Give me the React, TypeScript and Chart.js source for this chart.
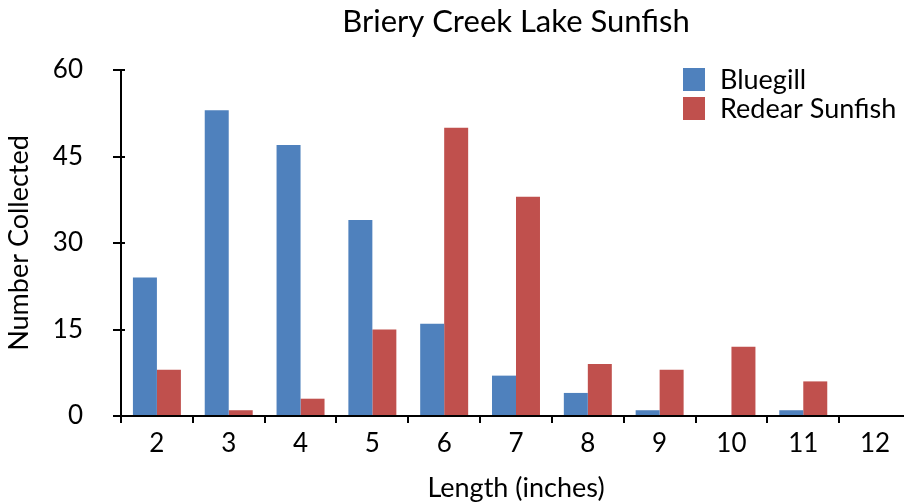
import React, { useEffect, useRef } from "react";
import { Chart, registerables } from "chart.js";

Chart.register(...registerables);

const categories = ["2", "3", "4", "5", "6", "7", "8", "9", "10", "11", "12"];
const bluegill = [24, 53, 47, 34, 16, 7, 4, 1, 0, 1, 0];
const redear = [8, 1, 3, 15, 50, 38, 9, 8, 12, 6, 0];
const seriesNames = ["Bluegill", "Redear Sunfish"];
const seriesColors = ["#4F81BD", "#C0504D"];
const yTicks = [0, 15, 30, 45, 60];

const FONT = "Lato";

const innerTicks = {
  id: "innerTicks",
  afterDraw(chart: any) {
    const y = chart.scales.y;
    const ctx = chart.ctx;
    ctx.save();
    ctx.strokeStyle = "#000";
    ctx.lineWidth = 2;
    for (const v of yTicks) {
      const py = Math.round(y.getPixelForValue(v));
      ctx.beginPath();
      ctx.moveTo(chart.chartArea.left, py);
      ctx.lineTo(chart.chartArea.left + 4, py);
      ctx.stroke();
    }
    ctx.restore();
  },
};

const customLegend = {
  id: "customLegend",
  afterDraw(chart: any) {
    const ctx = chart.ctx;
    ctx.save();
    ctx.font = `27px ${FONT}`;
    ctx.textBaseline = "middle";
    ctx.textAlign = "left";
    chart.data.datasets.forEach((ds: any, i: number) => {
      const top = 68 + i * 29;
      ctx.fillStyle = ds.backgroundColor;
      ctx.fillRect(683, top, 22, 23);
      ctx.fillStyle = "#000";
      ctx.fillText(ds.label, 720, top + 12);
    });
    ctx.restore();
  },
};

export default function App() {
  const ref = useRef<HTMLCanvasElement>(null);
  useEffect(() => {
    if (!ref.current) return;
    const chart = new Chart(ref.current, {
      type: "bar",
      data: {
        labels: categories,
        datasets: [
          { label: seriesNames[0], data: bluegill, backgroundColor: seriesColors[0], categoryPercentage: 0.668, barPercentage: 1 },
          { label: seriesNames[1], data: redear, backgroundColor: seriesColors[1], categoryPercentage: 0.668, barPercentage: 1 },
        ],
      },
      options: {
        responsive: false,
        animation: false,
        devicePixelRatio: 1,
        layout: { padding: { top: 0, right: 9, bottom: 0, left: 0 } },
        plugins: {
          legend: { display: false },
          tooltip: { enabled: false },
          title: {
            display: true,
            text: "Briery Creek Lake Sunfish",
            fullSize: false,
            color: "#000",
            font: { family: FONT, size: 31, weight: "normal" },
            padding: { top: 3, bottom: 29.8 },
          },
        },
        scales: {
          x: {
            offset: true,
            grid: { display: true, drawOnChartArea: false, drawTicks: true, tickLength: 7, color: "#000", lineWidth: 2, offset: true },
            border: { display: true, color: "#000", width: 2 },
            ticks: { color: "#000", font: { family: FONT, size: 26 }, padding: 5, maxRotation: 0, autoSkip: false },
            title: { display: true, text: "Length (inches)", color: "#000", font: { family: FONT, size: 27 }, padding: { top: 0, bottom: 0 } },
            afterFit: (s: any) => { s.height = 88; },
          },
          y: {
            min: 0,
            max: 60,
            ticks: { stepSize: 15, color: "#000", font: { family: FONT, size: 26 }, padding: 30 },
            grid: { display: true, drawOnChartArea: false, drawTicks: true, tickLength: 8, color: "#000", lineWidth: 2 },
            border: { display: true, color: "#000", width: 2 },
            title: { display: true, text: "Number Collected", color: "#000", font: { family: FONT, size: 27 }, padding: { top: 3, bottom: 0 } },
            afterFit: (s: any) => { s.width = 121; },
          },
        },
      },
      plugins: [innerTicks, customLegend],
    });
    return () => chart.destroy();
  }, []);
  return (
    <div style={{ position: "absolute", left: 0, top: 0, width: 904, height: 504, overflow: "hidden", background: "#fff" }}>
      <canvas ref={ref} width={920} height={504} style={{ display: "block" }} />
    </div>
  );
}
